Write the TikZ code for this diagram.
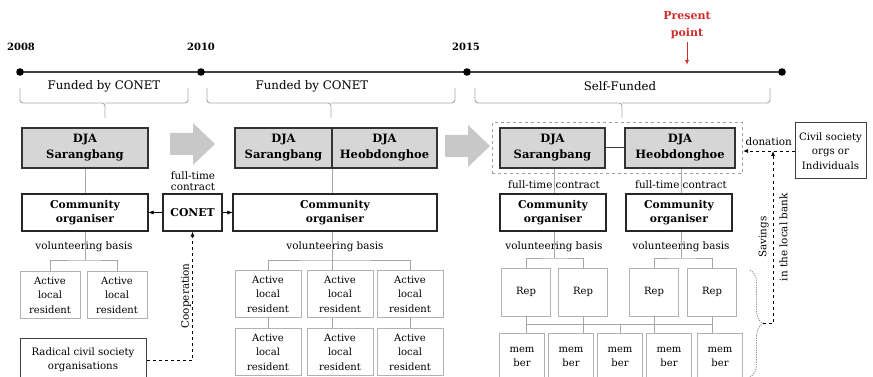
\documentclass[tikz,border=0pt]{standalone}
\usepackage{fontspec}
\setmainfont{DejaVu Serif}
\usetikzlibrary{arrows.meta,fit,decorations.pathreplacing}
\definecolor{djagray}{RGB}{214,214,214}
\definecolor{arrowgray}{RGB}{200,200,200}
\definecolor{nowred}{RGB}{208,44,44}
\begin{document}
\begin{tikzpicture}[x=1pt,y=-1pt,
    >={Latex[length=5pt,width=4pt]},
    djabox/.style={draw=black!80, fill=djagray, line width=1.1pt, align=center,
      minimum height=40pt, inner sep=1pt, font=\bfseries\fontsize{11.5}{16}\selectfont},
    orgbox/.style={draw=black!85, line width=1.1pt, align=center,
      minimum height=37pt, inner sep=1pt, font=\bfseries\fontsize{10.8}{14.5}\selectfont},
    resbox/.style={draw=gray!60, line width=0.9pt, align=center, minimum width=60pt,
      minimum height=47pt, inner sep=1pt, font=\fontsize{10}{14.5}\selectfont},
    outbox/.style={draw=black!75, line width=1pt, align=center, inner sep=1pt,
      font=\fontsize{10.2}{14.5}\selectfont},
    tie/.style={draw=gray!70, line width=0.9pt},
    note/.style={font=\fontsize{10.4}{11}\selectfont, align=center, inner sep=1pt},
    fundbrace/.style={draw=gray!70, line width=0.9pt, rounded corners=3pt},
    year/.style={font=\bfseries\fontsize{10}{11}\selectfont},
  ]
  \useasboundingbox (0,0) rectangle (873,377);
  \clip (0,0) rectangle (873,377);

  % Timeline
  \coordinate (t08) at (20,72);
  \coordinate (t10) at (201,72);
  \coordinate (t15) at (467,72);
  \coordinate (tend) at (782,72);
  \draw[line width=1.5pt, black!75] (t08) -- (tend);
  \foreach \t in {t08,t10,t15,tend}
    \fill[black] (\t) circle (3.8pt);
  \node[year] (y08) at (21,47) {2008};
  \node[year] (y10) at (201,47) {2010};
  \node[year] (y15) at (466,47) {2015};

  % Present point
  \node[font=\bfseries\fontsize{11}{17}\selectfont, text=nowred, align=center] (now) at (687,25) {Present\\point};
  \coordinate (nowtip) at (687,65);
  \draw[->, nowred, line width=0.9pt] (now.south) -- (nowtip);

  % Funding periods
  \foreach \a/\b/\m in {20/188/105, 207/455/331, 475/770/622}
    \draw[fundbrace] (\a,88) -- (\a,103) -- (\m,103) -- (\m,118)
      (\m,103) -- (\b,103) -- (\b,88);
  \node[font=\fontsize{11.8}{13}\selectfont] (fund1) at (104,86) {Funded by CONET};
  \node[font=\fontsize{11.8}{13}\selectfont] (fund2) at (312,86) {Funded by CONET};
  \node[font=\fontsize{11.8}{13}\selectfont] (self) at (620,86) {Self-Funded};

  % Transition arrows
  \foreach \ax/\ay in {170/144, 445/146}
    \fill[arrowgray] (\ax,\ay) ++(0,-11) -- ++(23,0) -- ++(0,-10) -- ++(22,21)
      -- ++(-22,21) -- ++(0,-10) -- ++(-23,0) -- cycle;

  % 2008--2010
  \node[djabox, minimum width=126pt] (djaL) at (85,148) {DJA\\Sarangbang};
  \node[orgbox, minimum width=126pt] (orgL) at (85,212.5) {Community\\organiser};
  \node[note] (volL) at (84,247) {volunteering basis};
  \node[resbox] (resL1) at (50,295) {Active\\local\\resident};
  \node[resbox] (resL2) at (117,295) {Active\\local\\resident};
  \node[outbox, minimum width=126pt, minimum height=44pt] (radical) at (83,360) {Radical civil society\\organisations};
  \node[orgbox, minimum width=59pt] (conet) at (192.5,212.5) {CONET};
  \node[note] (ftc) at (193,181) {full-time\\contract};
  \coordinate (busL) at (85,260);
  \draw[tie] (djaL) -- (orgL);
  \draw[tie] (orgL.south) -- (busL);
  \draw[tie] (resL1.north) |- (busL) -| (resL2.north);
  \draw[->] (conet) -- (orgL);
  \draw[dashed, ->, line width=0.8pt] (radical.east) -| node[pos=0.75, rotate=90, anchor=south, note] {Cooperation} (conet.south);

  % 2010--2015
  \node[djabox, minimum width=97pt] (djaMa) at (283.5,148) {DJA\\Sarangbang};
  \node[djabox, minimum width=105pt] (djaMb) at (384.5,148) {DJA\\Heobdonghoe};
  \node[orgbox, minimum width=204pt] (orgM) at (335,212.5) {Community\\organiser};
  \node[note] (volM) at (335,247) {volunteering basis};
  \coordinate (busM) at (332,260);
  \draw[->] (conet) -- (orgM);
  \draw[tie] (djaMa.south east) -- (orgM.north -| djaMa.south east);
  \draw[tie] (orgM.south -| busM) -- (busM);
  \foreach \i/\x in {1/268,2/340,3/410} {
    \node[resbox, minimum width=66pt] (resM\i) at (\x,294) {Active\\local\\resident};
    \node[resbox, minimum width=66pt] (resN\i) at (\x,352) {Active\\local\\resident};
  }
  \draw[tie] (resM1.north) |- (busM) -| (resM3.north);
  \draw[tie] (busM) -- (resM2.north -| busM);
  \draw[tie] (resM1) -- (resN1);
  \draw[tie] (resM2.south -| busM) -- (resN2.north -| busM);
  \draw[tie] (resM3) -- (resN3);

  % 2015--present
  \node[djabox, minimum width=105pt] (djaR1) at (552.5,148) {DJA\\Sarangbang};
  \node[djabox, minimum width=110pt] (djaR2) at (680,148) {DJA\\Heobdonghoe};
  \node[fit=(djaR1)(djaR2), draw=gray!75, dashed, line width=0.9pt, inner xsep=7pt, inner ysep=5pt] (selfbox) {};
  \draw[black!75, line width=1pt] (djaR1) -- (djaR2);
  \node[orgbox, minimum width=106pt] (orgR1) at (553,212.5) {Community\\organiser};
  \node[orgbox, minimum width=106pt] (orgR2) at (679,212.5) {Community\\organiser};
  \node[note] (ftcR1) at (554,185) {full-time contract};
  \node[note] (ftcR2) at (681,185) {full-time contract};
  \node[note] (volR1) at (554,247) {volunteering basis};
  \node[note] (volR2) at (681,247) {volunteering basis};
  \coordinate (busR1) at (554.5,258);
  \coordinate (busR2) at (681,258);
  \draw[tie] (djaR1.south -| busR1) -- (orgR1.north -| busR1);
  \draw[tie] (djaR2.south -| busR2) -- (orgR2.north -| busR2);
  \draw[tie] (orgR1.south -| busR1) -- (busR1);
  \draw[tie] (orgR2.south -| busR2) -- (busR2);
  \foreach \i/\x in {1/526,2/583,3/654,4/712}
    \node[resbox, minimum width=49pt, minimum height=48pt] (rep\i) at (\x,292) {Rep};
  \draw[tie] (rep1.north) |- (busR1) -| (rep2.north);
  \draw[tie] (rep3.north) |- (busR2) -| (rep4.north);
  \foreach \i/\x in {1/522,2/571,3/620,4/669,5/720}
    \node[resbox, minimum width=45pt, minimum height=48pt] (mem\i) at (\x,357) {mem\\ber};
  \coordinate (busR3) at (620,324);
  \foreach \i/\j in {1/1,2/2,3/4,4/5}
    \draw[tie] (rep\i.south) -- (rep\i.south |- mem\j.north);
  \draw[tie] (rep1.south |- busR3) -- (rep4.south |- busR3);
  \draw[tie] (busR3) -- (mem3.north);

  % Outside support
  \node[outbox, minimum width=71pt, minimum height=56pt] (civil) at (830.5,151) {Civil society\\orgs or\\Individuals};
  \draw[dashed, ->, line width=0.8pt] (civil.west) -- (selfbox.east |- civil.west) node[midway, above=4pt, note] {donation};
  \draw[gray!90, dash pattern=on 1.2pt off 1.2pt, line width=0.9pt, decorate, decoration={brace, amplitude=13pt}] (750,270) -- (750,377);
  \coordinate (bank) at (763,323.5);
  \coordinate (bankend) at (773,151);
  \draw[dashed, ->, line width=0.8pt] (bank) -| node[pos=0.75, rotate=90, note, font=\fontsize{10.4}{21}\selectfont] {Savings\\in the local bank} (bankend);
\end{tikzpicture}
\end{document}
